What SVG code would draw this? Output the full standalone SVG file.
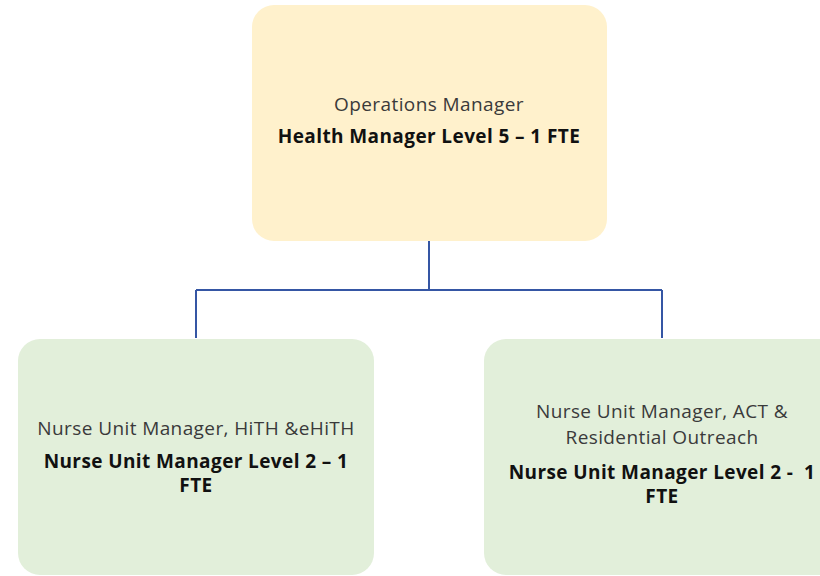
<svg xmlns="http://www.w3.org/2000/svg" width="820" height="576" viewBox="0 0 820 576">
<style>
.t{font-family:"Open Sans","Liberation Sans",sans-serif;font-size:19px;letter-spacing:0.4px;fill:#3a3a3a;text-anchor:middle}
.b{font-family:"Open Sans","Liberation Sans",sans-serif;font-size:19px;letter-spacing:0.4px;font-weight:bold;fill:#111;text-anchor:middle}
.conn{fill:none;stroke:#3556a4;stroke-width:2}
</style>
<rect width="820" height="576" fill="#fff"/>
<g id="connectors">
<path class="conn" d="M429,241 V290 M196,290 H662 M196,290 V338 M662,290 V338"/>
</g>
<g id="ops">
<rect x="252" y="5" width="355" height="236" rx="22" fill="#fff1cc"/>
<text class="t" x="429" y="111">Operations Manager</text>
<text class="b" x="429" y="143">Health Manager Level 5 – 1 FTE</text>
</g>
<g id="num-hith">
<rect x="18" y="339" width="356" height="236" rx="22" fill="#e2efda"/>
<text class="t" x="196" y="435">Nurse Unit Manager, HiTH &amp;eHiTH</text>
<text class="b" x="196" y="468">Nurse Unit Manager Level 2 – 1</text>
<text class="b" x="196" y="492">FTE</text>
</g>
<g id="num-act">
<rect x="484" y="339" width="356" height="236" rx="22" fill="#e2efda"/>
<text class="t" x="662" y="418">Nurse Unit Manager, ACT &amp;</text>
<text class="t" x="662" y="444">Residential Outreach</text>
<text class="b" x="662" y="479" xml:space="preserve">Nurse Unit Manager Level 2 -  1</text>
<text class="b" x="662" y="503">FTE</text>
</g>
</svg>
